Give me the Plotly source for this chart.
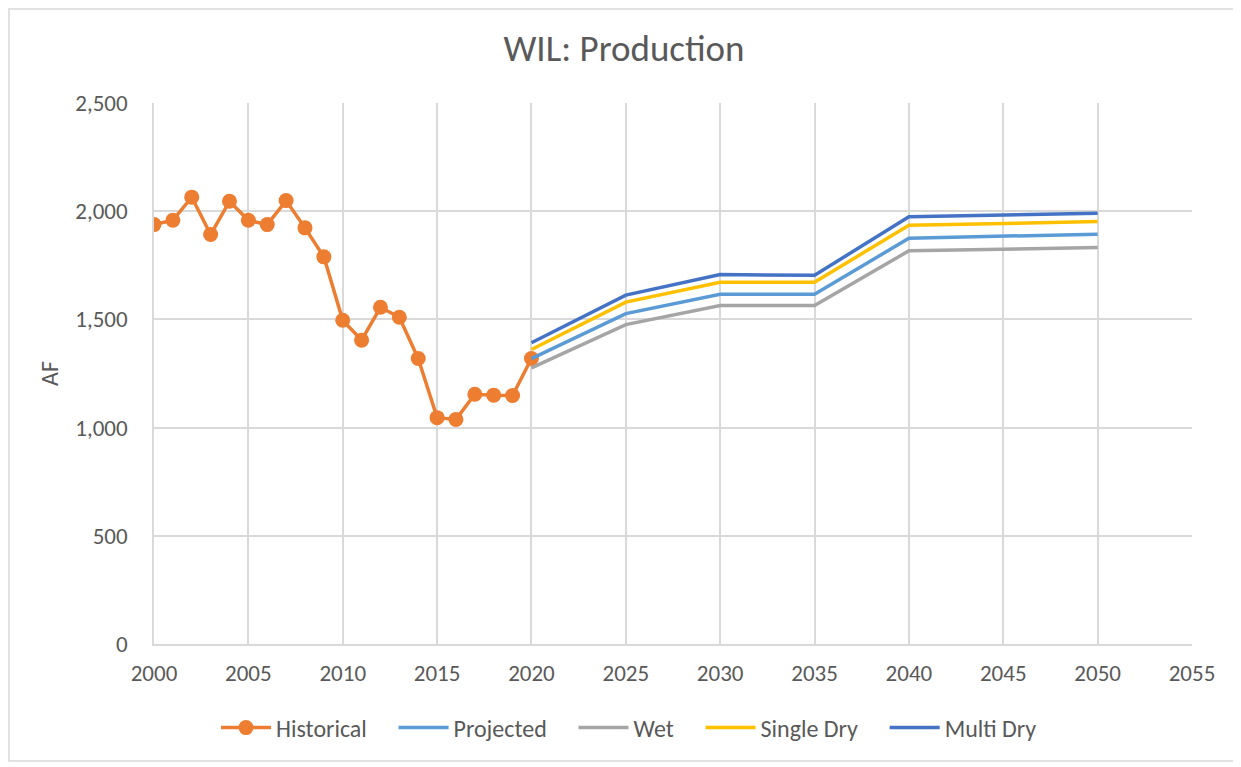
import plotly.graph_objects as go

hist_years = list(range(2000, 2021))
hist_vals = [1938, 1958, 2065, 1892, 2046, 1958, 1938, 2049, 1923, 1789, 1496,
             1404, 1556, 1510, 1319, 1046, 1038, 1154, 1150, 1148, 1319]

proj_years = [2020, 2025, 2030, 2035, 2040, 2050]
projected = [1319, 1527, 1616, 1616, 1875, 1894]
wet = [1276, 1476, 1564, 1564, 1817, 1832]
single_dry = [1361, 1580, 1672, 1672, 1935, 1952]
multi_dry = [1392, 1612, 1707, 1704, 1974, 1991]

text_color = "#595959"
grid_color = "#d9d9d9"
font_family = "Carlito, Calibri, 'Open Sans', 'Liberation Sans', sans-serif"
pad = "\u00a0" * 4

fig = go.Figure()
fig.add_trace(go.Scatter(x=hist_years, y=hist_vals, name="Historical" + pad, mode="lines+markers",
                         line=dict(color="#ed7d31", width=3.5),
                         marker=dict(color="#ed7d31", size=15)))
fig.add_trace(go.Scatter(x=proj_years, y=projected, name="Projected" + pad, mode="lines",
                         line=dict(color="#5b9bd5", width=3.5)))
fig.add_trace(go.Scatter(x=proj_years, y=wet, name="Wet" + pad, mode="lines",
                         line=dict(color="#a5a5a5", width=3.5)))
fig.add_trace(go.Scatter(x=proj_years, y=single_dry, name="Single Dry" + pad, mode="lines",
                         line=dict(color="#ffc000", width=3.5)))
fig.add_trace(go.Scatter(x=proj_years, y=multi_dry, name="Multi Dry", mode="lines",
                         line=dict(color="#4472c4", width=3.5)))

# page body has an 8px margin; figure sized to fit the window
off = 8
W, H = 1241 - off, 767 - off
ml, mr, mt, mb = 154 - off, 49, 103 - off, 123
pw, ph = W - ml - mr, H - mt - mb

fig.update_layout(
    width=W, height=H,
    margin=dict(l=ml, r=mr, t=mt, b=mb),
    paper_bgcolor="white", plot_bgcolor="white",
    font=dict(family=font_family, color=text_color, size=23),
    title=dict(text="WIL: Production", x=(624 - off) / W, xref="container", xanchor="center",
               y=1 - (48 - off) / H, yanchor="middle",
               font=dict(size=37, color=text_color)),
    showlegend=True,
    legend=dict(orientation="h", x=(629 - off - ml) / pw, xanchor="center", xref="paper",
                y=-(728 - 644) / ph, yanchor="middle", itemwidth=50,
                font=dict(size=24, color=text_color), tracegroupgap=0),
    xaxis=dict(range=[2000, 2055], dtick=5, tick0=2000, showgrid=True, gridcolor=grid_color,
               gridwidth=1.5, zeroline=False, showline=True, linecolor=grid_color, linewidth=1.5,
               ticks="", ticklabelstandoff=8, tickfont=dict(size=23, color=text_color)),
    yaxis=dict(range=[0, 2500], dtick=500, tickformat=",", showgrid=True, gridcolor=grid_color,
               gridwidth=1.5, zeroline=False, showline=True, linecolor=grid_color, linewidth=1.5,
               ticks="", ticklabelstandoff=20, tickfont=dict(size=23, color=text_color),
               title=dict(text="AF", font=dict(size=24, color=text_color), standoff=10)),
    shapes=[dict(type="rect", xref="paper", yref="paper",
                 x0=-(ml - 1) / pw, x1=1 + (mr - 6) / pw,
                 y0=-(mb - 6) / ph, y1=1 + (mt - 1) / ph,
                 line=dict(color="#d9d9d9", width=1.5), layer="below")],
)

fig.write_html("out.html")
